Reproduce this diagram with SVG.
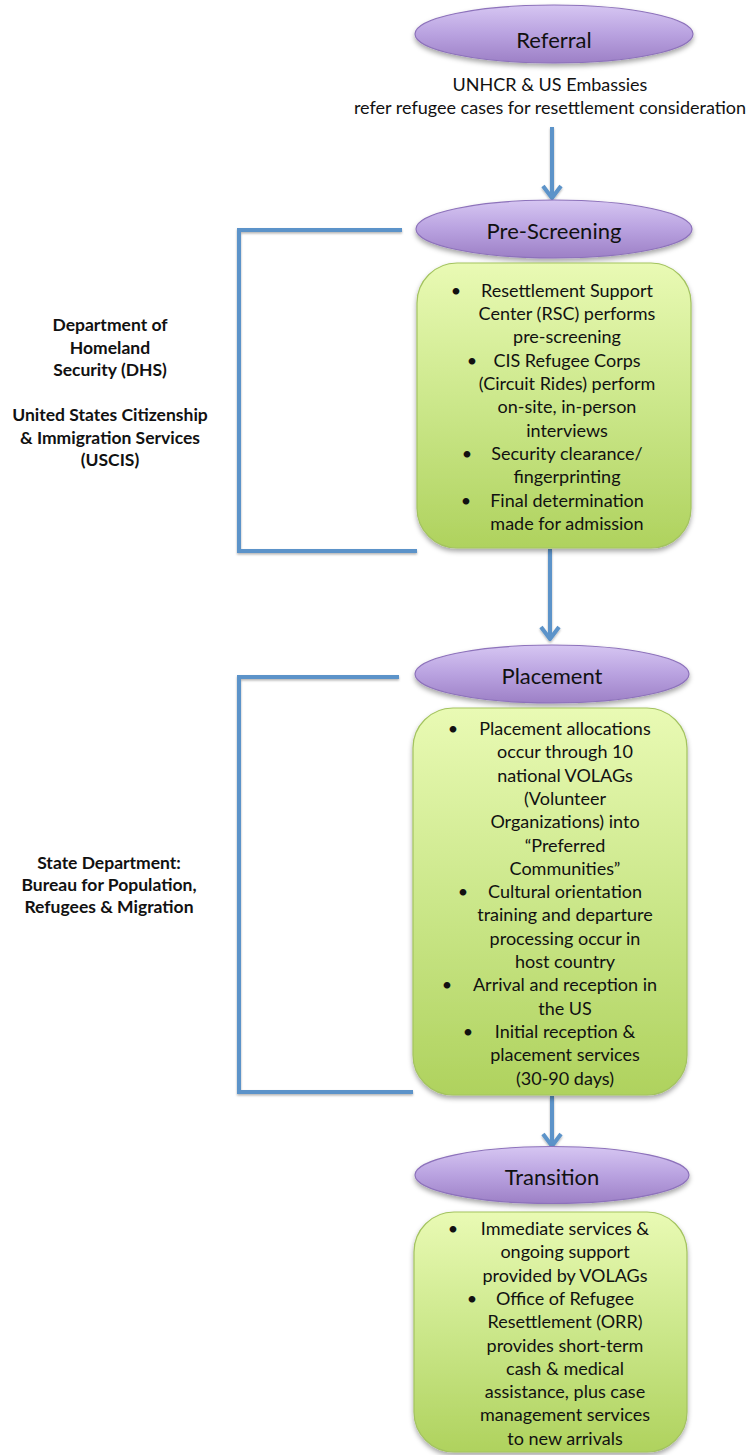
<svg xmlns="http://www.w3.org/2000/svg" width="751" height="1455" viewBox="0 0 751 1455">
<style>
.hdr{font-family:Lato,"Liberation Sans",sans-serif;font-size:22px;fill:#111;text-anchor:middle}
.txt{font-family:Lato,"Liberation Sans",sans-serif;font-size:18px;fill:#111;text-anchor:middle}
.lbl{font-family:Lato,"Liberation Sans",sans-serif;font-size:17.5px;font-weight:bold;fill:#111;text-anchor:middle}
.ell{fill:url(#gp);stroke:#8d72bb;stroke-width:1.2;filter:url(#sh)}
.box{fill:url(#gg);stroke:#a3c35f;stroke-width:1.2;filter:url(#sh)}
.con{fill:none;stroke:#5b93c9;stroke-width:4;filter:url(#sh2)}
</style>
<defs>
<linearGradient id="gp" x1="0" y1="0" x2="0" y2="1">
<stop offset="0" stop-color="#d6c6f2"/>
<stop offset="0.5" stop-color="#b9a2e0"/>
<stop offset="1" stop-color="#9d80c6"/>
</linearGradient>
<linearGradient id="gg" x1="0" y1="0" x2="0" y2="1">
<stop offset="0" stop-color="#e9fab4"/>
<stop offset="0.5" stop-color="#cbe78a"/>
<stop offset="1" stop-color="#afd25e"/>
</linearGradient>
<filter id="sh" x="-10%" y="-10%" width="120%" height="130%">
<feDropShadow dx="0" dy="3" stdDeviation="2.5" flood-color="#000" flood-opacity="0.35"/>
</filter>
<filter id="sh2" filterUnits="userSpaceOnUse" x="0" y="0" width="751" height="1455">
<feDropShadow dx="0" dy="1.5" stdDeviation="1" flood-color="#000" flood-opacity="0.3"/>
</filter>
<marker id="ah" markerUnits="userSpaceOnUse" viewBox="0 0 16 22" refX="14" refY="11" markerWidth="16" markerHeight="22" orient="auto">
<path d="M2,2 L14,11 L2,20" fill="none" stroke="#5b93c9" stroke-width="4"/>
</marker>
</defs>

<g id="connectors">
<path class="con" d="M552,127 L552,198" marker-end="url(#ah)"/>
<path class="con" d="M550,549 L550,639" marker-end="url(#ah)"/>
<path class="con" d="M552,1096 L552,1146" marker-end="url(#ah)"/>
<path class="con" d="M402,230 L239,230 L239,551 L417,551"/>
<path class="con" d="M399,677 L239,677 L239,1092 L413,1092"/>
</g>

<g id="referral">
<ellipse class="ell" cx="554" cy="34" rx="139" ry="29"/>
<text class="hdr" x="554" y="48">Referral</text>
</g>
<g id="referral-note">
<text class="txt" x="550" y="91">UNHCR &amp; US Embassies</text>
<text class="txt" x="550" y="114">refer refugee cases for resettlement consideration</text>
</g>

<g id="prescreening">
<ellipse class="ell" cx="554" cy="229" rx="138" ry="29"/>
<text class="hdr" x="554" y="239">Pre-Screening</text>
</g>
<g id="prescreening-box">
<rect class="box" x="417" y="263" width="274" height="285" rx="40" ry="40"/>
<text class="txt" x="456" y="296.5">•</text>
<text class="txt" x="567" y="296.5">Resettlement Support</text>
<text class="txt" x="567" y="320">Center (RSC) performs</text>
<text class="txt" x="567" y="343">pre-screening</text>
<text class="txt" x="472" y="366.5">•</text>
<text class="txt" x="567" y="366.5">CIS Refugee Corps</text>
<text class="txt" x="567" y="390">(Circuit Rides) perform</text>
<text class="txt" x="567" y="413">on-site, in-person</text>
<text class="txt" x="567" y="436.5">interviews</text>
<text class="txt" x="467" y="460">•</text>
<text class="txt" x="567" y="460">Security clearance/</text>
<text class="txt" x="567" y="483">fingerprinting</text>
<text class="txt" x="466" y="506.5">•</text>
<text class="txt" x="567" y="506.5">Final determination</text>
<text class="txt" x="567" y="530">made for admission</text>
</g>

<g id="dhs-label">
<text class="lbl" x="110" y="331">Department of</text>
<text class="lbl" x="110" y="353.5">Homeland</text>
<text class="lbl" x="110" y="376">Security (DHS)</text>
<text class="lbl" x="110" y="421">United States Citizenship</text>
<text class="lbl" x="110" y="443.5">&amp; Immigration Services</text>
<text class="lbl" x="110" y="466">(USCIS)</text>
</g>

<g id="placement">
<ellipse class="ell" cx="552" cy="674" rx="137" ry="29"/>
<text class="hdr" x="552" y="684">Placement</text>
</g>
<g id="placement-box">
<rect class="box" x="413" y="708" width="274" height="387" rx="40" ry="40"/>
<text class="txt" x="453" y="735">•</text>
<text class="txt" x="565" y="735">Placement allocations</text>
<text class="txt" x="565" y="758.3">occur through 10</text>
<text class="txt" x="565" y="781.6">national VOLAGs</text>
<text class="txt" x="565" y="804.9">(Volunteer</text>
<text class="txt" x="565" y="828.2">Organizations) into</text>
<text class="txt" x="565" y="851.5">“Preferred</text>
<text class="txt" x="565" y="874.8">Communities”</text>
<text class="txt" x="463" y="898.1">•</text>
<text class="txt" x="565" y="898.1">Cultural orientation</text>
<text class="txt" x="565" y="921.4">training and departure</text>
<text class="txt" x="565" y="944.7">processing occur in</text>
<text class="txt" x="565" y="968">host country</text>
<text class="txt" x="447" y="991.3">•</text>
<text class="txt" x="565" y="991.3">Arrival and reception in</text>
<text class="txt" x="565" y="1014.6">the US</text>
<text class="txt" x="468" y="1037.9">•</text>
<text class="txt" x="565" y="1037.9">Initial reception &amp;</text>
<text class="txt" x="565" y="1061.2">placement services</text>
<text class="txt" x="565" y="1084.5">(30-90 days)</text>
</g>

<g id="state-label">
<text class="lbl" x="109" y="869">State Department:</text>
<text class="lbl" x="109" y="891">Bureau for Population,</text>
<text class="lbl" x="109" y="913">Refugees &amp; Migration</text>
</g>

<g id="transition">
<ellipse class="ell" cx="552" cy="1175" rx="137" ry="28.5"/>
<text class="hdr" x="552" y="1185">Transition</text>
</g>
<g id="transition-box">
<rect class="box" x="414" y="1212" width="273" height="240" rx="40" ry="40"/>
<text class="txt" x="453" y="1235">•</text>
<text class="txt" x="565" y="1235">Immediate services &amp;</text>
<text class="txt" x="565" y="1258.3">ongoing support</text>
<text class="txt" x="565" y="1281.6">provided by VOLAGs</text>
<text class="txt" x="472" y="1304.9">•</text>
<text class="txt" x="565" y="1304.9">Office of Refugee</text>
<text class="txt" x="565" y="1328.2">Resettlement (ORR)</text>
<text class="txt" x="565" y="1351.5">provides short-term</text>
<text class="txt" x="565" y="1374.8">cash &amp; medical</text>
<text class="txt" x="565" y="1398.1">assistance, plus case</text>
<text class="txt" x="565" y="1421.4">management services</text>
<text class="txt" x="565" y="1444.7">to new arrivals</text>
</g>
</svg>
